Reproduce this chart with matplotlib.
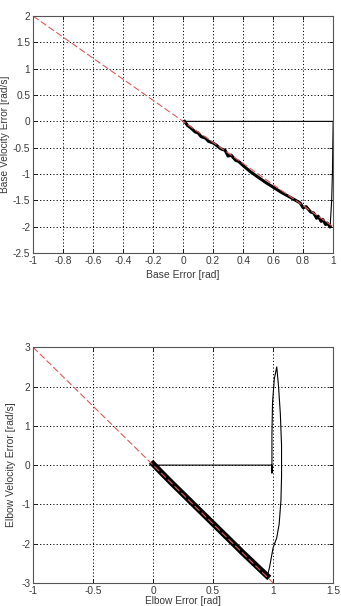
#Phase plane plots: base and elbow sliding trajectories
import numpy as np
import matplotlib.pyplot as plt

plt.rcParams['font.family'] = ['Liberation Sans', 'DejaVu Sans']

#Switching lines (red dashed)
base_line_x = [-1.0, 1.0]
base_line_y = [2.0, -2.0]
elbow_line_x = [-1.0, 1.0]
elbow_line_y = [3.0, -3.0]

#Base trajectory
base_reach_x = [0.0, 1.0, 1.0, 0.995, 0.99, 0.98]
base_reach_y = [0.0, 0.0, 0.0, -1.0, -1.5, -2.0]
base_slide_x = [0.98, 0.96, 0.95, 0.93, 0.92, 0.90, 0.89, 0.87, 0.85, 0.82, 0.80, 0.78,
                0.75, 0.70, 0.65, 0.60, 0.55, 0.50, 0.45, 0.40, 0.37, 0.35, 0.32, 0.30,
                0.28, 0.25, 0.22, 0.20, 0.17, 0.15, 0.12, 0.10, 0.08, 0.05, 0.03, 0.01]
base_slide_y = [-2.0, -1.93, -1.96, -1.86, -1.90, -1.80, -1.84, -1.74, -1.72, -1.62, -1.64, -1.55,
                -1.50, -1.42, -1.34, -1.25, -1.16, -1.06, -0.96, -0.84, -0.76, -0.74, -0.64, -0.66,
                -0.55, -0.52, -0.45, -0.41, -0.38, -0.32, -0.29, -0.22, -0.20, -0.12, -0.08, 0.0]

#Elbow trajectory
elbow_reach_x = [0.0, 0.99, 0.99, 0.99, 0.995, 1.01, 1.03, 1.045, 1.06, 1.07, 1.07, 1.065,
                 1.05, 1.03, 1.0, 0.97, 0.95]
elbow_reach_y = [0.0, 0.0, -0.2, 0.8, 1.6, 2.2, 2.5, 2.0, 1.3, 0.5, -0.3, -0.9,
                 -1.5, -1.85, -2.1, -2.6, -2.85]
elbow_slide_x = [0.95, 0.85, 0.75, 0.65, 0.55, 0.45, 0.35, 0.25, 0.15, 0.05, 0.0]
elbow_slide_y = [-2.82, -2.53, -2.24, -1.94, -1.64, -1.34, -1.04, -0.74, -0.44, -0.13, 0.03]

base_xticks = [-1, -0.8, -0.6, -0.4, -0.2, 0, 0.2, 0.4, 0.6, 0.8, 1]
base_xlabels = ['-1', '-0.8', '-0.6', '-0.4', '-0.2', '0', '0.2', '0.4', '0.6', '0.8', '1']
base_yticks = [-2.5, -2, -1.5, -1, -0.5, 0, 0.5, 1, 1.5, 2]
base_ylabels = ['-2.5', '-2', '-1.5', '-1', '-0.5', '0', '0.5', '1', '1.5', '2']
elbow_xticks = [-1, -0.5, 0, 0.5, 1, 1.5]
elbow_xlabels = ['-1', '-0.5', '0', '0.5', '1', '1.5']
elbow_yticks = [-3, -2, -1, 0, 1, 2, 3]
elbow_ylabels = ['-3', '-2', '-1', '0', '1', '2', '3']

text_color = '#3a3a3a'
red = '#e05a5a'

fig = plt.figure(figsize=(3.41, 6.06), dpi=100)
ax1 = fig.add_axes([0.097, 0.5825, 0.88, 0.391])
ax2 = fig.add_axes([0.097, 0.038, 0.88, 0.389])


def style(ax, xt, xl, yt, yl, xlim, ylim):
	ax.set_xlim(xlim)
	ax.set_ylim(ylim)
	ax.set_xticks(xt)
	ax.set_xticklabels(xl)
	ax.set_yticks(yt)
	ax.set_yticklabels(yl)
	ax.grid(True, color='black', linestyle=(0, (1.2, 2.2)), linewidth=0.7)
	ax.tick_params(direction='in', length=3, width=0.6, top=True, right=True,
	               labelsize=7.3, labelcolor=text_color, pad=2)
	for s in ax.spines.values():
		s.set_color('#555555')
		s.set_linewidth(0.8)


#Top plot
ax1.plot(base_reach_x, base_reach_y, color='black', linewidth=0.8)
ax1.plot(base_slide_x, base_slide_y, color='black', linewidth=2.2)
ax1.plot(base_line_x, base_line_y, color=red, linewidth=0.8, dashes=(6, 2.5))
style(ax1, base_xticks, base_xlabels, base_yticks, base_ylabels, (-1, 1), (-2.5, 2))
ax1.set_xlabel('Base Error [rad]', fontsize=7.5, color=text_color)
ax1.set_ylabel('Base Velocity Error [rad/s]', fontsize=7.3, color=text_color)
ax1.xaxis.set_label_coords(0.5, -0.072)
ax1.yaxis.set_label_coords(-0.078, 0.5)

#Bottom plot
ax2.plot(elbow_reach_x, elbow_reach_y, color='black', linewidth=0.8)
ax2.plot(elbow_slide_x, elbow_slide_y, color='black', linewidth=4.3)
ax2.plot(elbow_line_x, elbow_line_y, color=red, linewidth=0.8, dashes=(6, 2.5))
style(ax2, elbow_xticks, elbow_xlabels, elbow_yticks, elbow_ylabels, (-1, 1.5), (-3, 3))
ax2.set_xlabel('Elbow Error [rad]', fontsize=7.3, color=text_color)
ax2.set_ylabel('Elbow Velocity Error [rad/s]', fontsize=7.5, color=text_color)
ax2.xaxis.set_label_coords(0.5, -0.056)
ax2.yaxis.set_label_coords(-0.058, 0.5)

fig.savefig('out.png', dpi=100)
